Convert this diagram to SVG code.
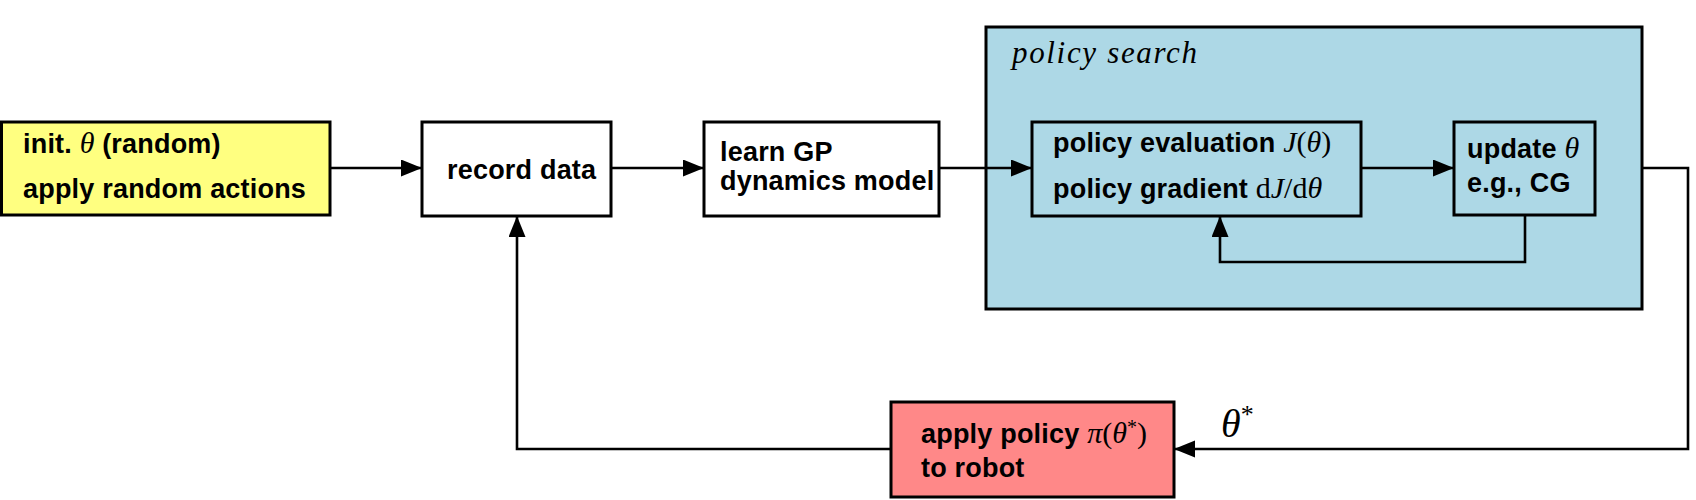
<svg xmlns="http://www.w3.org/2000/svg" width="1696" height="500" viewBox="0 0 1696 500">
  <style>
    .box { stroke: #000; stroke-width: 3; }
    .conn { fill: none; stroke: #000; stroke-width: 2.6; }
    .t { font-family: "Liberation Sans", Arial, sans-serif; font-weight: bold; font-size: 27px; letter-spacing: 0.2px; fill: #000; }
    .m { font-family: "Liberation Serif", "Times New Roman", serif; font-style: italic; font-weight: normal; font-size: 30px; letter-spacing: 0; }
    .r { font-family: "Liberation Serif", "Times New Roman", serif; font-style: normal; font-weight: normal; font-size: 30px; letter-spacing: 0; }
    .ps { font-family: "Liberation Serif", "Times New Roman", serif; font-style: italic; font-size: 31px; fill: #000; }
    .lbl { font-family: "Liberation Serif", "Times New Roman", serif; font-style: italic; font-size: 40px; fill: #000; }
  </style>
  <defs>
    <marker id="arr" markerUnits="userSpaceOnUse" markerWidth="22" markerHeight="18" refX="21" refY="8.5" orient="auto">
      <path d="M0,0 L21,8.5 L0,17 z" fill="#000"/>
    </marker>
  </defs>

  <g id="policy-search">
    <rect class="box" x="986" y="27" width="656" height="282" fill="#ADD8E6"/>
    <text class="ps" x="1012" y="63" textLength="185">policy search</text>
  </g>

  <g id="init">
    <rect class="box" x="1.5" y="122" width="328.5" height="93" fill="#FFFF80"/>
    <text class="t" x="23" y="153">init. <tspan class="m">θ</tspan> (random)</text>
    <text class="t" x="23" y="198">apply random actions</text>
  </g>

  <g id="record">
    <rect class="box" x="422" y="122" width="189" height="94" fill="#fff"/>
    <text class="t" x="447" y="179">record data</text>
  </g>

  <g id="learn">
    <rect class="box" x="704" y="122" width="235" height="94" fill="#fff"/>
    <text class="t" x="720" y="161">learn GP</text>
    <text class="t" x="720" y="190">dynamics model</text>
  </g>

  <g id="evaluation">
    <rect class="box" x="1032" y="122" width="329" height="94" fill="#ADD8E6"/>
    <text class="t" x="1053" y="152">policy evaluation <tspan class="m">J</tspan><tspan class="r">(</tspan><tspan class="m">θ</tspan><tspan class="r">)</tspan></text>
    <text class="t" x="1053" y="198">policy gradient <tspan class="r">d</tspan><tspan class="m">J</tspan><tspan class="r">/d</tspan><tspan class="m">θ</tspan></text>
  </g>

  <g id="update">
    <rect class="box" x="1454" y="122" width="141" height="93" fill="#ADD8E6"/>
    <text class="t" x="1467" y="158">update <tspan class="m">θ</tspan></text>
    <text class="t" x="1467" y="192">e.g., CG</text>
  </g>

  <g id="apply">
    <rect class="box" x="891" y="402" width="283" height="95" fill="#FF8888"/>
    <text class="t" x="921" y="443">apply policy <tspan class="m">π</tspan><tspan class="r">(</tspan><tspan class="m">θ</tspan><tspan class="r" style="font-size:20px" dy="-9">*</tspan><tspan class="r" dy="9">)</tspan></text>
    <text class="t" x="921" y="477">to robot</text>
  </g>

  <g id="connectors">
    <path class="conn" d="M330,168 H422" marker-end="url(#arr)"/>
    <path class="conn" d="M611,168 H704" marker-end="url(#arr)"/>
    <path class="conn" d="M939,168 H1032" marker-end="url(#arr)"/>
    <path class="conn" d="M1361,168 H1454" marker-end="url(#arr)"/>
    <path class="conn" d="M1525,215 V262 H1220 V216" marker-end="url(#arr)"/>
    <path class="conn" d="M1642,168 H1688 V449 H1174" marker-end="url(#arr)"/>
    <path class="conn" d="M891,449 H517 V216" marker-end="url(#arr)"/>
    <text class="lbl" x="1221" y="437">θ<tspan style="font-style:normal;font-size:26px" dy="-14">*</tspan></text>
  </g>
</svg>
